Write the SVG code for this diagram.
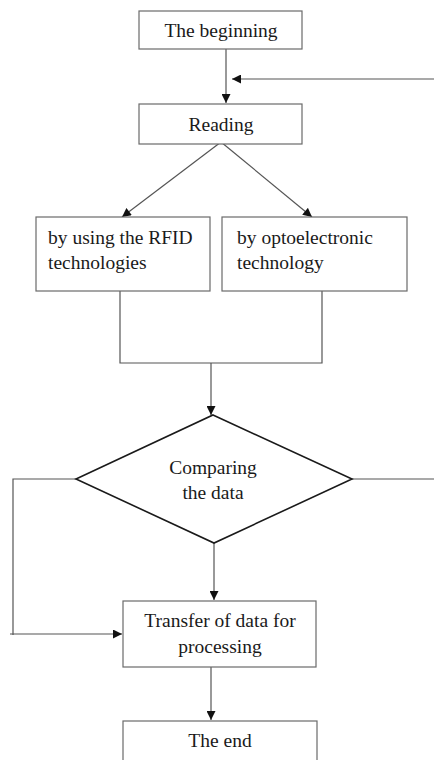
<svg xmlns="http://www.w3.org/2000/svg" width="434" height="760" viewBox="0 0 434 760">
<style>
.box{fill:#fff;stroke:#6a6a6a;stroke-width:1.2}
.dia{fill:#fff;stroke:#1a1a1a;stroke-width:1.6}
.ln{fill:none;stroke:#555;stroke-width:1.2}
text{font-family:'Liberation Serif','Times New Roman','DejaVu Serif',serif;font-size:19.5px;fill:#1a1a1a}
.c{text-anchor:middle}
</style>
<defs>
<marker id="ah" viewBox="0 0 10 10" refX="10" refY="5" markerWidth="10" markerHeight="9" markerUnits="userSpaceOnUse" orient="auto">
<path d="M0,0 L10,5 L0,10 z" fill="#111"/>
</marker>
</defs>
<rect width="434" height="760" fill="#fff"/>
<g id="connectors">
<line class="ln" x1="226" y1="49" x2="226" y2="103" marker-end="url(#ah)"/>
<line class="ln" x1="434" y1="79" x2="232" y2="79" marker-end="url(#ah)"/>
<line class="ln" x1="221" y1="142" x2="122" y2="217" marker-end="url(#ah)"/>
<line class="ln" x1="221" y1="142" x2="312" y2="217" marker-end="url(#ah)"/>
<polyline class="ln" points="120,291 120,363 322,363 322,291"/>
<line class="ln" x1="211" y1="363" x2="211" y2="415" marker-end="url(#ah)"/>
<line class="ln" x1="214" y1="543" x2="214" y2="600" marker-end="url(#ah)"/>
<polyline class="ln" points="76,479 13,479 13,635"/>
<line class="ln" x1="10" y1="634" x2="122" y2="634" marker-end="url(#ah)"/>
<line class="ln" x1="352" y1="479" x2="434" y2="479"/>
<line class="ln" x1="211" y1="667" x2="211" y2="720" marker-end="url(#ah)"/>
</g>
<g id="n-begin">
<rect class="box" x="139" y="11" width="163" height="38"/>
<text class="c" x="221" y="37" font-family="Liberation Serif, serif">The beginning</text>
</g>
<g id="n-reading">
<rect class="box" x="139" y="104" width="163" height="40"/>
<text class="c" x="221" y="131">Reading</text>
</g>
<g id="n-rfid">
<rect class="box" x="36" y="217" width="174" height="74"/>
<text x="48" y="244">by using the RFID</text>
<text x="48" y="269">technologies</text>
</g>
<g id="n-opto">
<rect class="box" x="222" y="217" width="185" height="74"/>
<text x="237" y="244">by optoelectronic</text>
<text x="237" y="269">technology</text>
</g>
<g id="n-compare">
<polygon class="dia" points="213,415 352,479 214,543 76,479"/>
<text class="c" x="213" y="474">Comparing</text>
<text class="c" x="213" y="499">the data</text>
</g>
<g id="n-transfer">
<rect class="box" x="123" y="601" width="193" height="66"/>
<text class="c" x="220" y="627">Transfer of data for</text>
<text class="c" x="220" y="653">processing</text>
</g>
<g id="n-end">
<rect class="box" x="123" y="721" width="194" height="50"/>
<text class="c" x="220" y="747">The end</text>
</g>
</svg>
